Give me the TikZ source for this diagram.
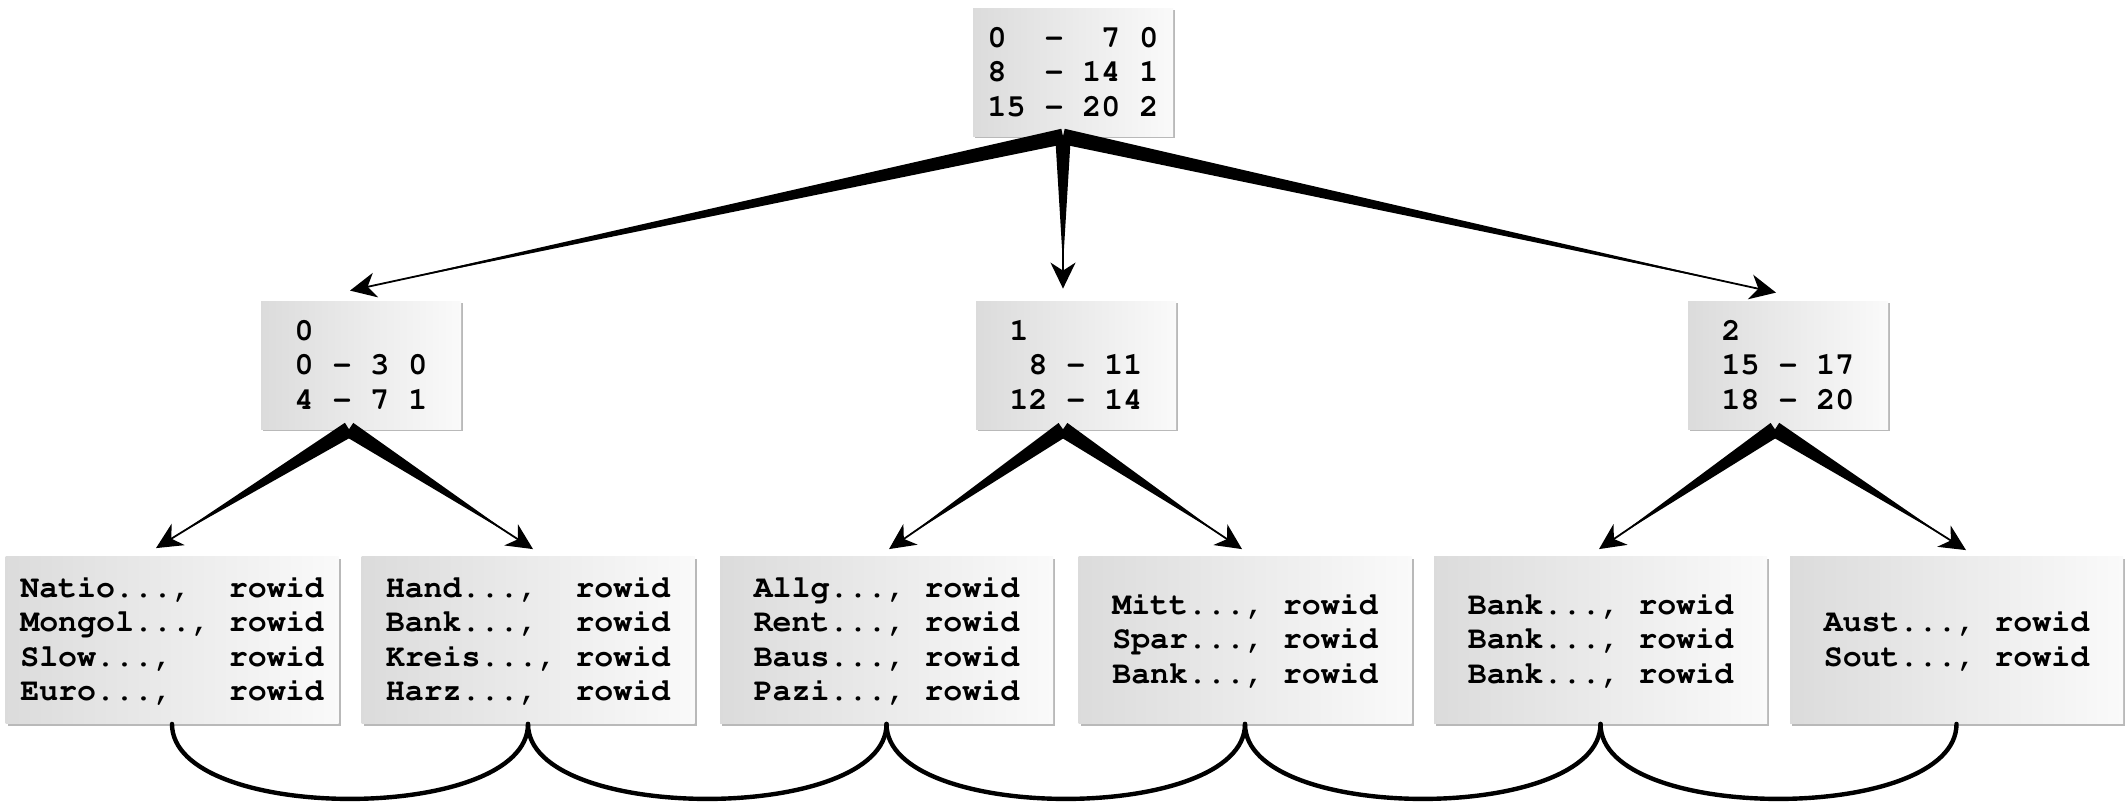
\documentclass[tikz,border=0pt]{standalone}
\usepackage[T1]{fontenc}
\usepackage{courier}
\usetikzlibrary{arrows.meta,calc,shadows}
\newcommand\wedgearr[2]{%
  \fill ($(#1)!3.9pt!90:(#2)$) -- ($(#2)!12pt!(#1)$) -- ($(#1)!3.9pt!-90:(#2)$) -- cycle;
  \draw[head] (#1) -- (#2);}
\begin{document}
\begin{tikzpicture}[x=0.5pt,y=-0.5pt,
  box/.style={rectangle, inner sep=0pt, left color=gray!28, right color=gray!4,
    drop shadow={shadow xshift=1pt, shadow yshift=-1.2pt, opacity=0.55},
    font=\fontfamily{pcr}\fontseries{b}\fontsize{15.8pt}{17.2pt}\selectfont, align=left},
  innerbox/.style={box, minimum width=100pt, minimum height=64pt},
  leafbox/.style={box, minimum width=166.5pt, minimum height=83.5pt},
  link/.style={line width=2.2pt, line cap=round},
  head/.style={line width=0.9pt, -{Stealth[length=13pt,width=12.5pt,inset=4pt]}},
]
\fill[white] (0,0) rectangle (2126,804);
\useasboundingbox (0,0) rectangle (2126,804);

% nodes
\node[innerbox] (top) at (1073,72) {0~~-~~7 0\\8~~- 14 1\\15 - 20 2};
\node[innerbox] (mL) at (361,365) {0\\0 - 3 0\\4 - 7 1};
\node[innerbox] (mC) at (1076,365) {1\\~8 - 11\\12 - 14};
\node[innerbox] (mR) at (1788,365) {2\\15 - 17\\18 - 20};

\node[leafbox] (b1) at (172,640) {Natio...,~~rowid\\Mongol...,~rowid\\Slow...,~~~rowid\\Euro...,~~~rowid};
\node[leafbox] (b2) at (528,640) {Hand...,~~rowid\\Bank...,~~rowid\\Kreis...,~rowid\\Harz...,~~rowid};
\node[leafbox] (b3) at (886.5,640) {Allg..., rowid\\Rent..., rowid\\Baus..., rowid\\Pazi..., rowid};
\node[leafbox] (b4) at (1245,640) {Mitt..., rowid\\Spar..., rowid\\Bank..., rowid};
\node[leafbox] (b5) at (1600.5,640) {Bank..., rowid\\Bank..., rowid\\Bank..., rowid};
\node[leafbox] (b6) at (1956.5,640) {Aust..., rowid\\Sout..., rowid};

% connector end points
\coordinate (sT) at ($(top.south)+(-10,0)$);
\coordinate (tL) at ($(mL.north)+(-11,-10)$);
\coordinate (tC) at ($(mC.north)+(-13,-12)$);
\coordinate (tR) at ($(mR.north)+(-12,-8)$);
\coordinate (sL) at ($(mL.south)+(-12,0)$);
\coordinate (sC) at ($(mC.south)+(-13,0)$);
\coordinate (sR) at ($(mR.south)+(-13,0)$);
\coordinate (t1) at ($(b1.north)+(-16,-8)$);
\coordinate (t2) at ($(b2.north)+(5,-7)$);
\coordinate (t3) at ($(b3.north)+(2.5,-7)$);
\coordinate (t4) at ($(b4.north)+(-3,-7)$);
\coordinate (t5) at ($(b5.north)+(-1.5,-7)$);
\coordinate (t6) at ($(b6.north)+(9.5,-6)$);

% tree connectors
\wedgearr{sT}{tL}
\wedgearr{sT}{tC}
\wedgearr{sT}{tR}
\wedgearr{sL}{t1}
\wedgearr{sL}{t2}
\wedgearr{sC}{t3}
\wedgearr{sC}{t4}
\wedgearr{sR}{t5}
\wedgearr{sR}{t6}

% leaf chain
\draw[link] (b1.south) .. controls +(0,100) and +(0,100) .. (b2.south);
\draw[link] (b2.south) .. controls +(0,100) and +(0,100) .. (b3.south);
\draw[link] (b3.south) .. controls +(0,100) and +(0,100) .. (b4.south);
\draw[link] (b4.south) .. controls +(0,100) and +(0,100) .. (b5.south);
\draw[link] (b5.south) .. controls +(0,100) and +(0,100) .. (b6.south);
\end{tikzpicture}
\end{document}
